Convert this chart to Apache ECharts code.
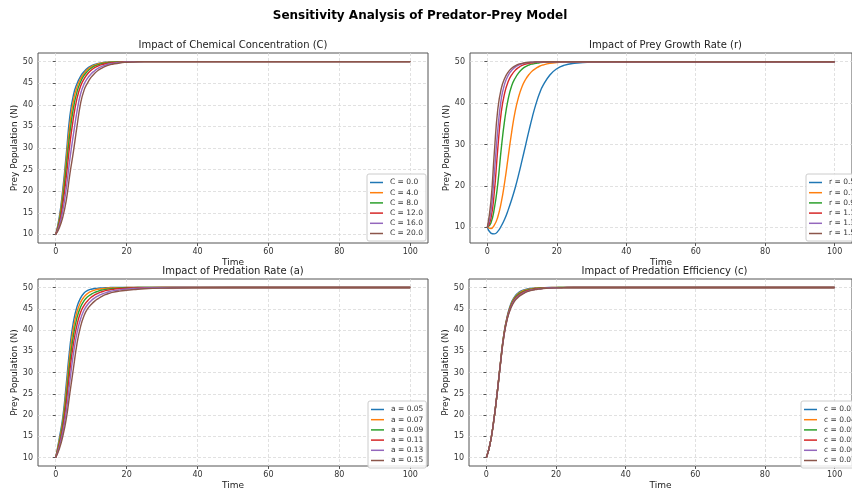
<!DOCTYPE html>
<html>
<head>
<meta charset="utf-8">
<title>Sensitivity Analysis of Predator-Prey Model</title>
<script src="https://cdn.jsdelivr.net/npm/echarts@6/dist/echarts.min.js"></script>
<style>
    html, body { margin: 0; padding: 0; background: #fff; }
    #chart { width: 852px; height: 491px; }
</style>
</head>
<body>
<div id="chart"></div>
<script>

// Chart data
// ------------------------------

var times = [0, 1, 2, 3, 4, 5, 6, 7, 8, 9, 10, 11, 12, 13, 14, 15, 16, 18, 20, 22, 25, 30, 40, 60, 80, 100];

var xTicks = [0, 20, 40, 60, 80, 100];
var yTicksFine = [10, 15, 20, 25, 30, 35, 40, 45, 50];
var yTicksCoarse = [10, 20, 30, 40, 50];

// Impact of Chemical Concentration (C)
var chemLabels = ['C = 0.0', 'C = 4.0', 'C = 8.0', 'C = 12.0', 'C = 16.0', 'C = 20.0'];
var chemC0 = [10, 14, 20.5, 28.8, 37.5, 42.3, 44.9, 46.6, 47.7, 48.5, 49.0, 49.35, 49.6, 49.75, 49.85, 49.9, 49.93, 49.97, 50, 50, 50, 50, 50, 50, 50, 50];
var chemC4 = [10, 13.5, 19.5, 27.5, 35.5, 41, 44.1, 46, 47.3, 48.2, 48.8, 49.2, 49.5, 49.7, 49.8, 49.87, 49.92, 49.96, 50, 50, 50, 50, 50, 50, 50, 50];
var chemC8 = [10, 13, 18.3, 25.8, 33.5, 39.3, 43, 45.3, 46.8, 47.8, 48.5, 49, 49.3, 49.55, 49.7, 49.8, 49.87, 49.94, 49.98, 50, 50, 50, 50, 50, 50, 50];
var chemC12 = [10, 12.5, 17, 23.5, 31, 37, 41.5, 44.3, 46, 47.2, 48, 48.6, 49, 49.3, 49.5, 49.65, 49.75, 49.88, 49.95, 50, 50, 50, 50, 50, 50, 50];
var chemC16 = [10, 12, 15.5, 20.8, 27.5, 33.2, 38.5, 42.5, 44.8, 46.2, 47.2, 47.9, 48.5, 48.9, 49.2, 49.45, 49.6, 49.8, 49.9, 49.96, 50, 50, 50, 50, 50, 50];
var chemC20 = [10, 11.5, 14, 18, 24, 29.2, 35, 40.3, 43.4, 45.1, 46.4, 47.3, 48, 48.5, 48.9, 49.2, 49.4, 49.7, 49.85, 49.93, 50, 50, 50, 50, 50, 50];

// Impact of Prey Growth Rate (r)
var growthLabels = ['r = 0.5', 'r = 0.7', 'r = 0.9', 'r = 1.1', 'r = 1.3', 'r = 1.5'];
var growthR05 = [10, 8.6, 8.4, 9, 10.3, 12, 14.2, 16.7, 19.5, 22.7, 26.2, 29.8, 33.4, 36.8, 39.8, 42.3, 44.2, 46.8, 48.3, 49.1, 49.6, 49.9, 50, 50, 50, 50];
var growthR07 = [10, 9.7, 10.5, 12.5, 16, 21, 27, 33, 38, 41.5, 44, 45.7, 46.9, 47.8, 48.4, 48.9, 49.2, 49.6, 49.8, 49.9, 49.97, 50, 50, 50, 50, 50];
var growthR09 = [10, 11, 14.5, 20.5, 29, 36, 41, 44.2, 46, 47.3, 48.2, 48.8, 49.2, 49.45, 49.6, 49.75, 49.85, 49.93, 49.97, 50, 50, 50, 50, 50, 50, 50];
var growthR11 = [10, 12, 18.5, 29, 37.8, 42.5, 45.2, 46.8, 47.9, 48.6, 49.1, 49.4, 49.6, 49.75, 49.85, 49.9, 49.93, 49.97, 50, 50, 50, 50, 50, 50, 50, 50];
var growthR13 = [10, 13.5, 23, 33.5, 41, 44.7, 46.7, 47.9, 48.7, 49.2, 49.5, 49.7, 49.8, 49.87, 49.92, 49.95, 49.97, 50, 50, 50, 50, 50, 50, 50, 50, 50];
var growthR15 = [10, 16, 28, 38.5, 43.5, 46, 47.5, 48.4, 49, 49.4, 49.6, 49.75, 49.85, 49.9, 49.93, 49.96, 49.98, 50, 50, 50, 50, 50, 50, 50, 50, 50];

// Impact of Predation Rate (a)
var rateLabels = ['a = 0.05', 'a = 0.07', 'a = 0.09', 'a = 0.11', 'a = 0.13', 'a = 0.15'];
var rateA05 = [10, 14.5, 19.5, 27.5, 36, 42, 45.5, 47.5, 48.7, 49.3, 49.6, 49.75, 49.85, 49.9, 49.95, 49.97, 50, 50, 50, 50, 50, 50, 50, 50, 50, 50];
var rateA07 = [10, 14, 18.7, 26, 34.3, 40.5, 44.3, 46.5, 47.8, 48.6, 49.1, 49.4, 49.6, 49.72, 49.8, 49.87, 49.9, 49.95, 50, 50, 50, 50, 50, 50, 50, 50];
var rateA09 = [10, 13.5, 18, 24.5, 32.5, 38.8, 42.9, 45.4, 46.9, 47.8, 48.4, 48.85, 49.15, 49.4, 49.55, 49.67, 49.75, 49.87, 49.94, 49.97, 50, 50, 50, 50, 50, 50];
var rateA11 = [10, 13, 17, 23, 30.5, 36.8, 41.2, 44.1, 45.8, 46.9, 47.7, 48.25, 48.7, 49, 49.25, 49.42, 49.55, 49.75, 49.85, 49.92, 49.97, 50, 50, 50, 50, 50];
var rateA13 = [10, 12.5, 16, 21, 28, 34.5, 39.3, 42.6, 44.7, 46, 46.9, 47.55, 48.05, 48.45, 48.75, 49, 49.2, 49.45, 49.62, 49.75, 49.87, 49.95, 50, 50, 50, 50];
var rateA15 = [10, 12, 15, 19.2, 25.2, 31, 36.8, 40.8, 43.4, 45, 46, 46.8, 47.4, 47.9, 48.3, 48.6, 48.85, 49.15, 49.35, 49.5, 49.7, 49.85, 49.97, 50, 50, 50];

// Impact of Predation Efficiency (c)
var effNames = ['c = 0.030', 'c = 0.038', 'c = 0.046', 'c = 0.054', 'c = 0.062', 'c = 0.070'];
var effC030 = [10, 13, 18, 24.5, 32, 39, 43.3, 46.1, 47.7, 48.65, 49.2, 49.5, 49.7, 49.8, 49.88, 49.93, 49.96, 50, 50, 50, 50, 50, 50, 50, 50, 50];
var effC038 = [10, 13, 18, 24.5, 32, 38.9, 43.15, 45.9, 47.5, 48.45, 49.0, 49.35, 49.58, 49.72, 49.82, 49.88, 49.92, 49.97, 50, 50, 50, 50, 50, 50, 50, 50];
var effC046 = [10, 13, 18, 24.5, 31.9, 38.8, 43.0, 45.7, 47.3, 48.25, 48.8, 49.2, 49.45, 49.63, 49.75, 49.83, 49.88, 49.95, 49.98, 50, 50, 50, 50, 50, 50, 50];
var effC054 = [10, 13, 18, 24.5, 31.9, 38.65, 42.9, 45.5, 47.1, 48.0, 48.6, 49.0, 49.3, 49.5, 49.65, 49.75, 49.82, 49.92, 49.96, 49.98, 50, 50, 50, 50, 50, 50];
var effC062 = [10, 13, 18, 24.5, 31.8, 38.5, 42.75, 45.3, 46.9, 47.8, 48.4, 48.85, 49.15, 49.4, 49.55, 49.67, 49.76, 49.88, 49.94, 49.97, 50, 50, 50, 50, 50, 50];
var effC070 = [10, 13, 18, 24.5, 31.8, 38.4, 42.6, 45.1, 46.7, 47.6, 48.25, 48.75, 49.1, 49.33, 49.5, 49.62, 49.72, 49.85, 49.92, 49.96, 49.99, 50, 50, 50, 50, 50];


// Setup module
// ------------------------------

var EchartsSensitivity = function() {

    var colors = ['#1f77b4', '#ff7f0e', '#2ca02c', '#d62728', '#9467bd', '#8c564b'];
    var fontFamily = '"DejaVu Sans", Arial, sans-serif';
    var textColor = '#333';

    // Subplot frames
    var panels = [
        { left: 38, top: 53, width: 390, height: 190, yMin: 8, yMax: 52, yTicks: yTicksFine,
          title: 'Impact of Chemical Concentration (C)', names: chemLabels,
          values: [chemC0, chemC4, chemC8, chemC12, chemC16, chemC20], legendLeft: 367, legendTop: 174 },
        { left: 470, top: 53, width: 391, height: 190, yMin: 6.2, yMax: 52.1, yTicks: yTicksCoarse,
          title: 'Impact of Prey Growth Rate (r)', names: growthLabels,
          values: [growthR05, growthR07, growthR09, growthR11, growthR13, growthR15], legendLeft: 806, legendTop: 174 },
        { left: 38, top: 279, width: 390, height: 190, yMin: 8, yMax: 52, yTicks: yTicksFine,
          title: 'Impact of Predation Rate (a)', names: rateLabels,
          values: [rateA05, rateA07, rateA09, rateA11, rateA13, rateA15], legendLeft: 368, legendTop: 401 },
        { left: 469, top: 279, width: 391, height: 191, yMin: 8, yMax: 52, yTicks: yTicksFine,
          title: 'Impact of Predation Efficiency (c)', names: effNames,
          values: [effC030, effC038, effC046, effC054, effC062, effC070], legendLeft: 801, legendTop: 401,
          formatter: function(name) { return 'c = ' + parseFloat(name.split('= ')[1]).toFixed(2); } }
    ];

    var _sensitivityChart = function() {
        if (typeof echarts == 'undefined') {
            console.warn('Warning - echarts.min.js is not loaded.');
            return;
        }

        var chart_element = document.getElementById('chart');
        var chart = echarts.init(chart_element, null, { renderer: 'canvas' });

        var titles = [{
            text: 'Sensitivity Analysis of Predator-Prey Model',
            left: 420,
            top: 10,
            padding: 0,
            textAlign: 'center',
            textStyle: { fontFamily: fontFamily, fontSize: 12, fontWeight: 'bold', color: '#000' }
        }];
        var grids = [], xAxes = [], yAxes = [], legends = [], series = [];

        panels.forEach(function(p, k) {
            titles.push({
                text: p.title,
                left: p.left + p.width / 2,
                top: p.top - 13,
                padding: 0,
                textAlign: 'center',
                textStyle: { fontFamily: fontFamily, fontSize: 10, fontWeight: 'normal', color: '#222' }
            });

            grids.push({
                left: p.left, top: p.top, width: p.width, height: p.height,
                show: true, borderColor: '#555', borderWidth: 1, backgroundColor: 'transparent'
            });

            var gridLine = { show: true, lineStyle: { color: '#d9d9d9', width: 0.8, type: [3, 2] } };

            xAxes.push({
                type: 'value', gridIndex: k, min: -5, max: 105,
                name: 'Time', nameLocation: 'middle', nameGap: 15,
                nameTextStyle: { fontFamily: fontFamily, fontSize: 9, color: '#222' },
                axisLine: { show: false },
                axisTick: { show: true, inside: false, length: 3, customValues: xTicks, lineStyle: { color: '#555' } },
                axisLabel: { customValues: xTicks, fontFamily: fontFamily, fontSize: 8, color: textColor, margin: 5 },
                splitLine: gridLine
            });

            yAxes.push({
                type: 'value', gridIndex: k, min: p.yMin, max: p.yMax,
                name: 'Prey Population (N)', nameLocation: 'middle', nameGap: 18,
                nameTextStyle: { fontFamily: fontFamily, fontSize: 9, color: '#222' },
                axisLine: { show: false },
                axisTick: { show: true, inside: false, length: 3, customValues: p.yTicks, lineStyle: { color: '#555' } },
                axisLabel: { customValues: p.yTicks, fontFamily: fontFamily, fontSize: 8, color: textColor, margin: 5 },
                splitLine: gridLine
            });

            legends.push({
                data: p.names,
                orient: 'vertical',
                left: p.legendLeft,
                top: p.legendTop,
                icon: 'rect',
                itemWidth: 13,
                itemHeight: 1.5,
                itemGap: 1.2,
                padding: [4, 3, 3, 3],
                backgroundColor: 'rgba(255,255,255,0.85)',
                borderColor: '#cccccc',
                borderWidth: 1,
                borderRadius: 2,
                formatter: p.formatter,
                textStyle: { fontFamily: fontFamily, fontSize: 7.5, lineHeight: 9, color: textColor, padding: [0, 0, 0, 2] }
            });

            p.names.forEach(function(name, i) {
                series.push({
                    name: name,
                    type: 'line',
                    xAxisIndex: k,
                    yAxisIndex: k,
                    data: times.map(function(t, j) { return [t, p.values[i][j]]; }),
                    showSymbol: false,
                    smooth: true,
                    color: colors[i],
                    itemStyle: { color: colors[i] },
                    lineStyle: { color: colors[i], width: 1.4 },
                    emphasis: { disabled: true }
                });
            });
        });

        chart.setOption({
            animation: false,
            textStyle: { fontFamily: fontFamily },
            title: titles,
            grid: grids,
            xAxis: xAxes,
            yAxis: yAxes,
            legend: legends,
            series: series
        });
    };

    return {
        init: function() {
            _sensitivityChart();
        }
    }
}();


// Initialize module
// ------------------------------

document.addEventListener('DOMContentLoaded', function() {
    EchartsSensitivity.init();
});
</script>
</body>
</html>
